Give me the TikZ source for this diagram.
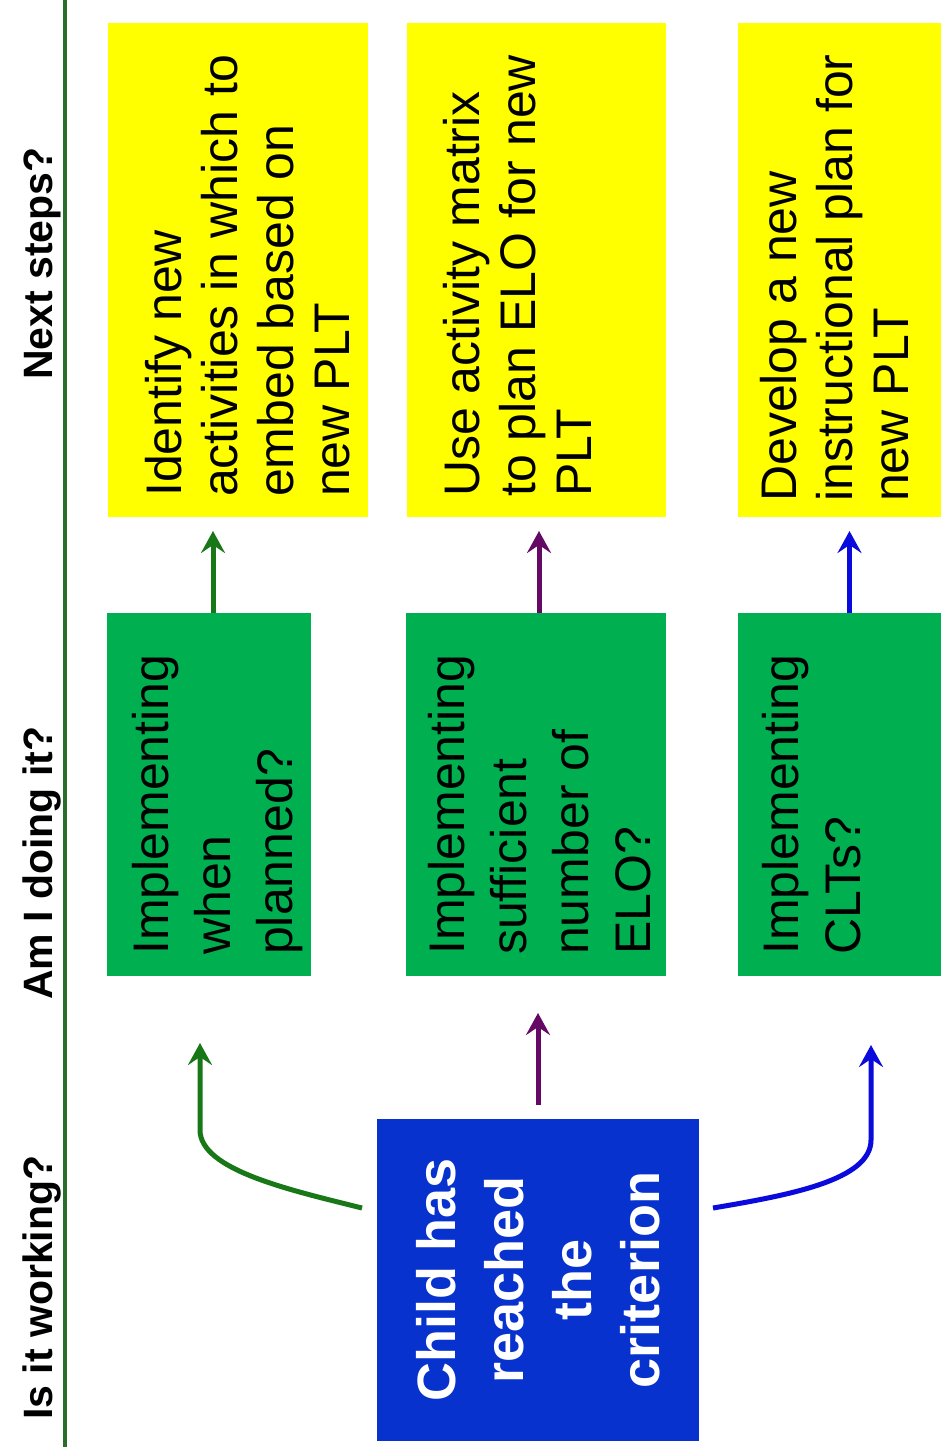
\documentclass[tikz,border=0pt]{standalone}
\usepackage{fontspec}
\setmainfont{Liberation Sans}
\usetikzlibrary{arrows.meta,calc}

\definecolor{boxyellow}{RGB}{255,255,0}
\definecolor{boxgreen}{RGB}{0,176,80}
\definecolor{boxblue}{RGB}{8,50,205}
\definecolor{arrgreen}{RGB}{24,120,24}
\definecolor{arrpurple}{RGB}{100,10,100}
\definecolor{arrblue}{RGB}{10,10,220}
\definecolor{rulegreen}{RGB}{40,110,40}

\begin{document}
\begin{tikzpicture}[x=1pt,y=-1pt,
  panel/.style={draw=none, inner sep=0pt, outer sep=0pt, anchor=north west},
  ytext/.style={rotate=90, anchor=north west, inner sep=0pt, align=left,
                font=\fontsize{50}{56}\selectfont},
  gtext/.style={rotate=90, anchor=north west, inner sep=0pt, align=left,
                font=\fontsize{50}{62}\selectfont},
  header/.style={rotate=90, anchor=base west, inner sep=0pt,
                 font=\bfseries\fontsize{41}{48}\selectfont},
  conn/.style={line width=5pt, -{Stealth[length=22pt,width=24pt,inset=8pt]}}
]
\useasboundingbox (0,0) rectangle (940,1447);
\fill[white] (0,0) rectangle (940,1447);

% column divider
\draw[rulegreen, line width=3.5pt] (65,0) -- (65,1447);

% column headers
\node[header] (h1) at (52,1420) {Is it working?};
\node[header] (h2) at (52,1000) {Am I doing it?};
\node[header] (h3) at (52,380) {Next steps?};

% next steps
\node[panel, fill=boxyellow, minimum width=260pt, minimum height=494pt] (y1) at (108,23) {};
\node[panel, fill=boxyellow, minimum width=259pt, minimum height=494pt] (y2) at (407,23) {};
\node[panel, fill=boxyellow, minimum width=207pt, minimum height=494pt] (y3) at (738,23) {};
\node[ytext] (y1t) at (145,497) {Identify new\\activities in which to\\embed based on\\new PLT};
\node[ytext] (y2t) at (443,497) {Use activity matrix\\to plan ELO for new\\PLT};
\node[ytext] (y3t) at (760,502) {Develop a new\\instructional plan for\\new PLT};

% am I doing it
\node[panel, fill=boxgreen, minimum width=204pt, minimum height=363pt] (g1) at (107,613) {};
\node[panel, fill=boxgreen, minimum width=260pt, minimum height=363pt] (g2) at (406,613) {};
\node[panel, fill=boxgreen, minimum width=207pt, minimum height=363pt] (g3) at (738,613) {};
\node[gtext] (g1t) at (132,955) {Implementing\\when\\planned?};
\node[gtext] (g2t) at (428,955) {Implementing\\sufficient\\number of\\ELO?};
\node[gtext] (g3t) at (762,955) {Implementing\\CLTs?};

% criterion
\node[panel, fill=boxblue, minimum width=322pt, minimum height=322pt] (crit) at (377,1119) {};
\node[rotate=90, inner sep=0pt, align=center, text=white,
      font=\bfseries\fontsize{54}{68}\selectfont] (critt) at (crit.center)
      {Child has\\reached\\the\\criterion};

% straight connectors
\coordinate (g1top) at ($(g1.north)+(4,0)$);
\coordinate (g2top) at ($(g2.north)+(3,0)$);
\coordinate (g3top) at ($(g3.north)+(8,0)$);
\draw[conn, arrgreen, shorten >=14pt] (g1top) -- (g1top |- y1.south);
\draw[conn, arrpurple, shorten >=14pt] (g2top) -- (g2top |- y2.south);
\draw[conn, arrblue, shorten >=14pt] (g3top) -- (g3top |- y3.south);
\draw[conn, arrpurple, shorten <=14pt, shorten >=37pt] (crit.north) -- (crit.north |- g2.south);

% curved connectors
\draw[conn, arrgreen] ($(crit.west)+(-15,-72)$)
  .. controls +(-72,-18) and +(0,40) .. ($(g1.south)+(-9,154)$)
  -- ($(g1.south)+(-9,67)$);
\draw[conn, arrblue] ($(crit.east)+(14,-72)$)
  .. controls +(77,-13) and +(0,40) .. ($(g3.south)+(29.5,164)$)
  -- ($(g3.south)+(29.5,69)$);
\end{tikzpicture}
\end{document}
